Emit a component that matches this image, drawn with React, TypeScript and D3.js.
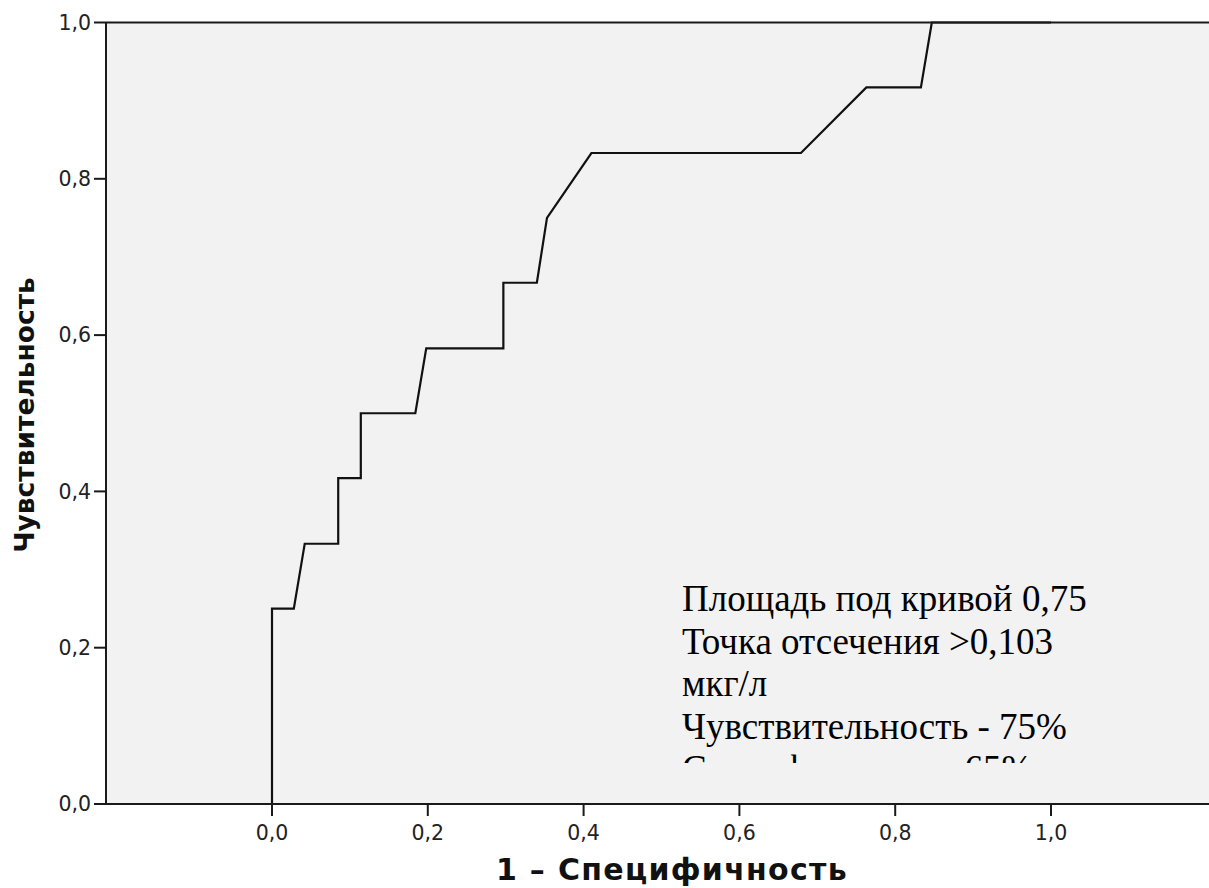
import React from "react";
import * as d3 from "d3";

const fpr = [0, 0, 0.028, 0.042, 0.085, 0.085, 0.114, 0.114, 0.184, 0.198, 0.297, 0.297, 0.34, 0.353, 0.41, 0.679, 0.763, 0.833, 0.847, 1.0];
const tpr = [0, 0.25, 0.25, 0.333, 0.333, 0.417, 0.417, 0.5, 0.5, 0.583, 0.583, 0.667, 0.667, 0.75, 0.833, 0.833, 0.917, 0.917, 1.0, 1.0];
const xTicks = [0, 0.2, 0.4, 0.6, 0.8, 1.0];
const yTicks = [0, 0.2, 0.4, 0.6, 0.8, 1.0];
const noteLines = [
  "Площадь под кривой 0,75",
  "Точка отсечения >0,103",
  "мкг/л",
  "Чувствительность - 75%",
  "Специфичность - 65%",
];

const W = 1209;
const H = 888;
const left = 106;
const top = 22.5;
const bottom = 804;

export default function App() {
  const x = d3.scaleLinear().domain([0, 1]).range([272, 1051]);
  const y = d3.scaleLinear().domain([0, 1]).range([bottom, top]);
  const pts: [number, number][] = fpr.map((f, i) => [f, tpr[i]]);
  const line = d3
    .line<[number, number]>()
    .x((d) => x(d[0]))
    .y((d) => y(d[1]));
  const fmt = (v: number) => v.toFixed(1).replace(".", ",");
  const sans = "'DejaVu Sans', Verdana, sans-serif";
  return (
    <svg
      width={W}
      height={H}
      style={{ position: "absolute", left: 0, top: 0, background: "#fff" }}
    >
      <defs>
        <clipPath id="noteClip">
          <rect x={600} y={560} width={600} height={203} />
        </clipPath>
      </defs>
      <rect x={left} y={top} width={W - left + 5} height={bottom - top} fill="#f2f2f2" />
      <path d={line(pts) || ""} fill="none" stroke="#111" strokeWidth={2.2} strokeLinejoin="miter" />
      <line x1={left} x2={W + 5} y1={top} y2={top} stroke="#1a1a1a" strokeWidth={2} />
      <line x1={left} x2={W + 5} y1={bottom} y2={bottom} stroke="#1a1a1a" strokeWidth={2} />
      <line x1={left} x2={left} y1={top} y2={bottom} stroke="#1a1a1a" strokeWidth={2} />
      {yTicks.map((t) => (
        <g key={"y" + t}>
          <line x1={left - 12} x2={left} y1={y(t)} y2={y(t)} stroke="#1a1a1a" strokeWidth={2} />
          <text
            x={left - 15}
            y={y(t)}
            dy="0.36em"
            textAnchor="end"
            fontFamily={sans}
            fontSize={20.5}
            fill="#222"
          >
            {fmt(t)}
          </text>
        </g>
      ))}
      {xTicks.map((t) => (
        <g key={"x" + t}>
          <line x1={x(t)} x2={x(t)} y1={bottom} y2={bottom + 12} stroke="#1a1a1a" strokeWidth={2} />
          <text
            x={x(t)}
            y={bottom + 36}
            textAnchor="middle"
            fontFamily={sans}
            fontSize={20.5}
            fill="#222"
          >
            {fmt(t)}
          </text>
        </g>
      ))}
      <text
        transform={`translate(34, 415) rotate(-90)`}
        textAnchor="middle"
        fontFamily={sans}
        fontWeight="bold"
        fontSize={26.5}
        fill="#111"
      >
        Чувствительность
      </text>
      <text
        x={672}
        y={880}
        textAnchor="middle"
        fontFamily={sans}
        fontWeight="bold"
        fontSize={30}
        letterSpacing={1.3}
        fill="#111"
      >
        1 – Специфичность
      </text>
      <g clipPath="url(#noteClip)">
        {noteLines.map((s, i) => (
          <text
            key={i}
            x={682}
            y={611 + i * 42.5}
            fontFamily="'Liberation Serif', 'Times New Roman', serif"
            fontSize={37}
            fill="#000"
          >
            {s}
          </text>
        ))}
      </g>
    </svg>
  );
}
